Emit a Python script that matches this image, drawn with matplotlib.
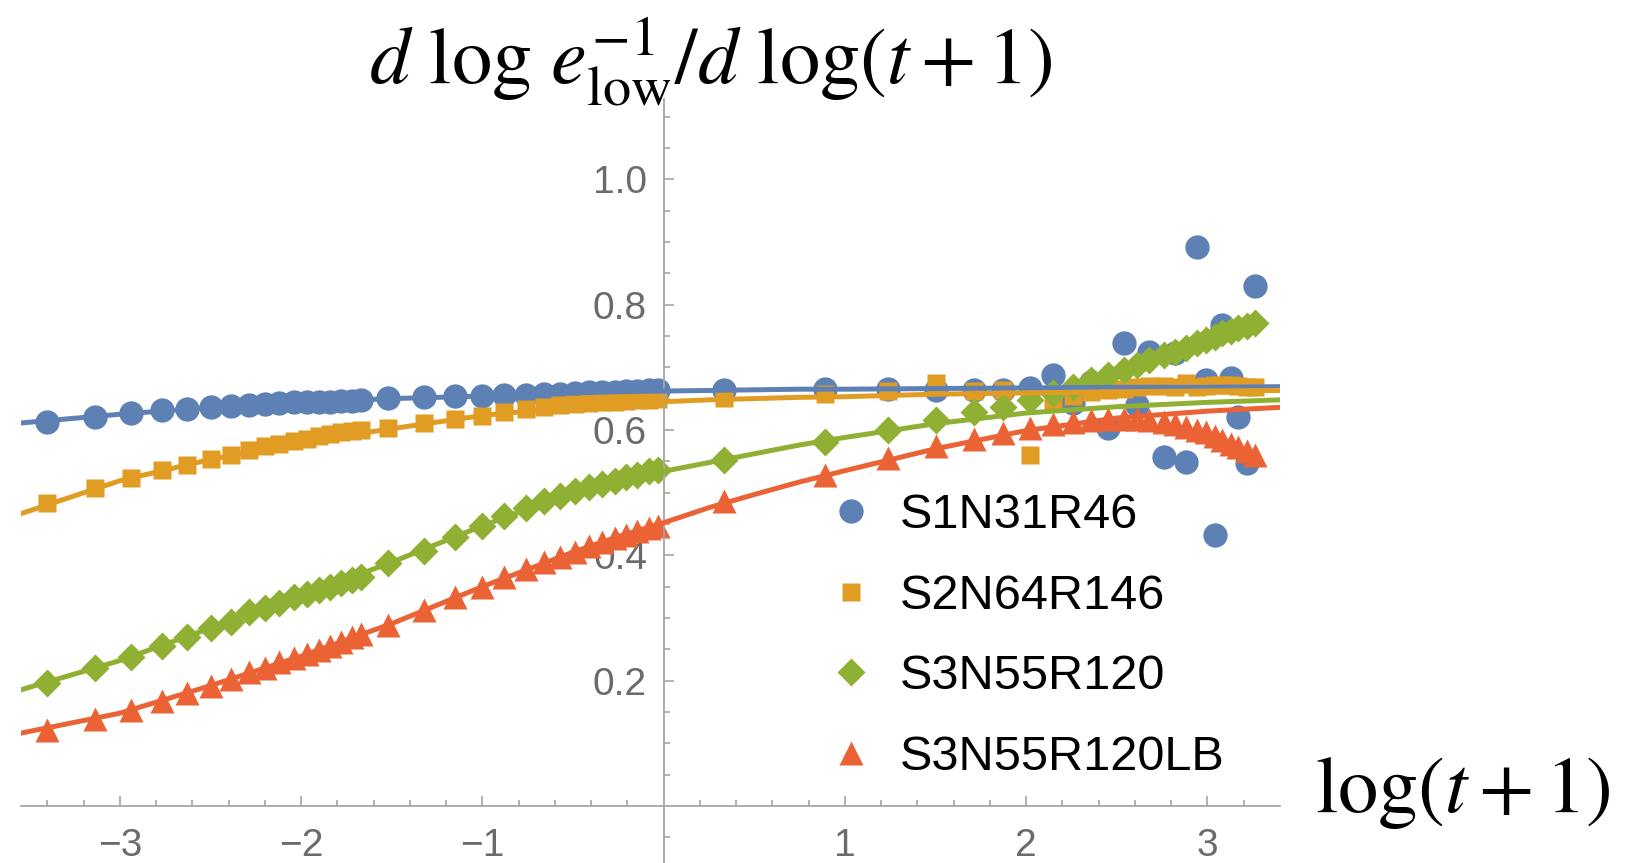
import matplotlib.pyplot as plt
from matplotlib.lines import Line2D

plt.rcParams['mathtext.fontset'] = 'stix'
plt.rcParams['font.family'] = ['Liberation Sans', 'DejaVu Sans']

# shared sample positions, log(t+1)
log_t1 = [-3.40, -3.14, -2.94, -2.77, -2.63, -2.50, -2.39, -2.29, -2.20, -2.12, -2.04, -1.97,
          -1.90, -1.84, -1.78, -1.72, -1.67,
          -1.52, -1.32, -1.15, -1.00, -0.88, -0.76, -0.66, -0.57, -0.49, -0.41, -0.34, -0.27,
          -0.21, -0.15, -0.08, -0.03,
          0.33, 0.89, 1.24, 1.50, 1.71, 1.87, 2.02, 2.15, 2.26, 2.36, 2.45, 2.54, 2.61, 2.68,
          2.76, 2.82, 2.88, 2.94, 2.99, 3.04, 3.08, 3.13, 3.17, 3.22, 3.26]

s1n31r46 = [0.613, 0.621, 0.627, 0.631, 0.633, 0.637, 0.638, 0.640, 0.641, 0.643, 0.644, 0.644,
            0.645, 0.645, 0.646, 0.646, 0.647,
            0.651, 0.653, 0.654, 0.654, 0.655, 0.656, 0.657, 0.658, 0.659, 0.660, 0.660, 0.661,
            0.662, 0.662, 0.663, 0.663,
            0.664, 0.665, 0.665, 0.664, 0.664, 0.664, 0.667, 0.688, 0.643, 0.677, 0.603, 0.738,
            0.640, 0.725, 0.556, 0.722, 0.549, 0.892, 0.680, 0.432, 0.768, 0.683, 0.620, 0.547, 0.829]

s2n64r146 = [0.483, 0.507, 0.523, 0.536, 0.544, 0.553, 0.560, 0.568, 0.574, 0.578, 0.582, 0.586,
             0.590, 0.593, 0.596, 0.598, 0.600,
             0.603, 0.611, 0.618, 0.623, 0.628, 0.633, 0.636, 0.639, 0.641, 0.643, 0.644, 0.645,
             0.646, 0.647, 0.648, 0.649,
             0.651, 0.657, 0.662, 0.675, 0.662, 0.663, 0.560, 0.646, 0.654, 0.660, 0.664, 0.666,
             0.668, 0.670, 0.670, 0.668, 0.675, 0.668, 0.670, 0.671, 0.672, 0.671, 0.670, 0.669, 0.668]

s3n55r120 = [0.196, 0.220, 0.238, 0.255, 0.269, 0.284, 0.294, 0.309, 0.316, 0.324, 0.333, 0.338,
             0.345, 0.350, 0.355, 0.361, 0.366,
             0.387, 0.407, 0.429, 0.447, 0.462, 0.475, 0.486, 0.494, 0.502, 0.509, 0.514, 0.519,
             0.525, 0.528, 0.534, 0.536,
             0.552, 0.581, 0.600, 0.616, 0.628, 0.637, 0.648, 0.659, 0.669, 0.680, 0.688, 0.696,
             0.704, 0.712, 0.720, 0.725, 0.731, 0.738, 0.744, 0.749, 0.754, 0.758, 0.762, 0.766, 0.770]

s3n55r120lb = [0.121, 0.139, 0.153, 0.168, 0.181, 0.192, 0.202, 0.213, 0.220, 0.229, 0.236, 0.242,
               0.249, 0.255, 0.262, 0.269, 0.274,
               0.289, 0.313, 0.333, 0.350, 0.365, 0.378, 0.389, 0.398, 0.406, 0.414, 0.421, 0.427,
               0.433, 0.438, 0.443, 0.447,
               0.486, 0.528, 0.555, 0.574, 0.585, 0.595, 0.603, 0.610, 0.613, 0.616, 0.617, 0.617,
               0.617, 0.616, 0.613, 0.610, 0.605, 0.600, 0.596, 0.591, 0.584, 0.578, 0.572, 0.566, 0.560]

# fitted curves
fit_x = [-3.55, -3.0, -2.5, -2.0, -1.5, -1.0, -0.5, -0.25, 0.0, 0.25, 0.5, 0.75, 1.0, 1.5,
         2.0, 2.5, 3.0, 3.4]
fit_s1 = [0.611, 0.625, 0.636, 0.644, 0.650, 0.654, 0.659, 0.661, 0.662, 0.663, 0.664, 0.665,
          0.665, 0.666, 0.667, 0.668, 0.668, 0.669]
fit_s2 = [0.466, 0.519, 0.553, 0.580, 0.602, 0.623, 0.637, 0.642, 0.645, 0.648, 0.650, 0.652,
          0.653, 0.657, 0.659, 0.661, 0.662, 0.663]
fit_s3 = [0.185, 0.232, 0.284, 0.335, 0.389, 0.447, 0.501, 0.519, 0.534, 0.548, 0.562, 0.576,
          0.588, 0.610, 0.627, 0.637, 0.644, 0.648]
fit_s3lb = [0.116, 0.148, 0.192, 0.239, 0.291, 0.350, 0.405, 0.430, 0.452, 0.476, 0.497, 0.517,
            0.535, 0.570, 0.599, 0.619, 0.630, 0.636]

labels = ['S1N31R46', 'S2N64R146', 'S3N55R120', 'S3N55R120LB']
colors = ['#5E81B5', '#E19C24', '#8FB032', '#EB6235']
markers = ['o', 's', 'D', '^']
sizes = [17.5, 12.5, 14, 17.5]

fig = plt.figure(figsize=(16.3, 8.63), dpi=100)
ax = fig.add_axes([21 / 1630, 0, 1259 / 1630, 764 / 863])

series = [s1n31r46, s2n64r146, s3n55r120, s3n55r120lb]
fits = [fit_s1, fit_s2, fit_s3, fit_s3lb]
for ys, c, m, ms in zip(series, colors, markers, sizes):
    ax.plot(log_t1, ys, ls='none', marker=m, ms=ms, color=c, mec='none', zorder=2)
for fy, c in zip(fits, colors):
    ax.plot(fit_x, fy, color=c, lw=3.6, zorder=3, solid_capstyle='butt')

ax.set_xlim(-3.546, 3.40)
ax.set_ylim(-0.091, 1.128)

for side in ['top', 'right']:
    ax.spines[side].set_visible(False)
for side in ['left', 'bottom']:
    ax.spines[side].set_position(('data', 0))
    ax.spines[side].set_color('#a6a6a6')
    ax.spines[side].set_linewidth(1.3)

ax.set_xticks([-3, -2, -1, 1, 2, 3])
ax.set_xticks([v / 5 for v in range(-17, 17) if v % 5 != 0], minor=True)
ax.set_yticks([0.2, 0.4, 0.6, 0.8, 1.0])
ax.set_yticks([v / 20 for v in range(-1, 23) if v % 4 != 0 and v != 0], minor=True)
ax.set_yticklabels(['0.2', '0.4', '0.6', '0.8', '1.0'])
ax.tick_params(which='both', direction='in', color='#a6a6a6', labelcolor='#6b6b6b',
               labelsize=28, width=1.2)
ax.tick_params(which='major', length=7)
ax.tick_params(which='minor', length=4.5)
ax.tick_params(axis='x', which='major', pad=16)
ax.tick_params(axis='y', which='major', pad=12)

handles = [Line2D([], [], ls='none', marker=m, ms=ms, color=c, mec='none')
           for c, m, ms in zip(colors, markers, sizes)]
ax.legend(handles, labels, loc='upper left', bbox_to_anchor=(0.5074, 0.4283),
          bbox_transform=fig.transFigure, frameon=False, fontsize=35, borderpad=0,
          handlelength=1.0, handletextpad=0.5, labelspacing=0.73, borderaxespad=0)

fig.text(0.436, 0.928, r'$d\ \log\,e_{\rm low}^{-1}/d\ \log(t+1)$', fontsize=58,
         ha='center', va='center')
fig.text(0.807, 0.081, r'$\log(t+1)$', fontsize=58, ha='left', va='center')

fig.savefig('out.png', dpi=100)
